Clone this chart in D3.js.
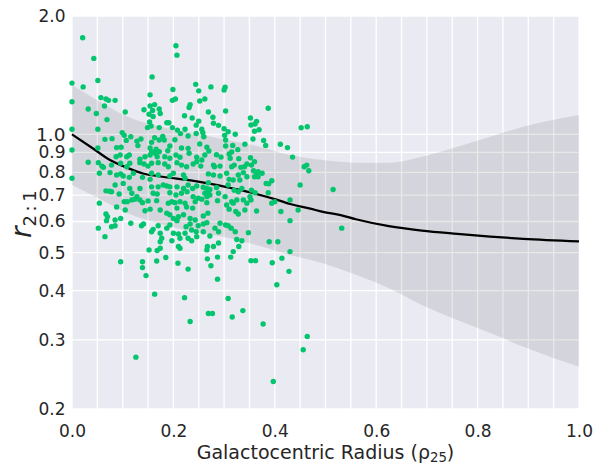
<!DOCTYPE html>
<html><head><meta charset="utf-8">
<script src="https://cdn.jsdelivr.net/npm/d3@7"></script>
<style>body{margin:0;background:#fff}</style>
</head><body>
<svg id="c" width="607" height="464"></svg>
<script>
// ---- data ----
const xTicks = [0, 0.2, 0.4, 0.6, 0.8, 1.0];
const xTickLabels = ["0.0", "0.2", "0.4", "0.6", "0.8", "1.0"];
const xGrid = [0, 0.05, 0.1, 0.15, 0.2, 0.25, 0.3, 0.35, 0.4, 0.45, 0.5, 0.55, 0.6, 0.65, 0.7, 0.75, 0.8, 0.85, 0.9, 0.95, 1.0];
const yTicks = [0.2, 0.3, 0.4, 0.5, 0.6, 0.7, 0.8, 0.9, 1.0, 2.0];
const yTickLabels = ["0.2", "0.3", "0.4", "0.5", "0.6", "0.7", "0.8", "0.9", "1.0", "2.0"];
const yMajor = [1.0];

const fitX = [0, 0.04, 0.075, 0.11, 0.14, 0.175, 0.24, 0.305, 0.355, 0.405, 0.43, 0.47, 0.495, 0.53, 0.56, 0.625, 0.69, 0.76, 0.825, 0.89, 1.0];
const fitR = [1.0, 0.923, 0.860, 0.821, 0.795, 0.781, 0.761, 0.734, 0.710, 0.681, 0.665, 0.647, 0.635, 0.623, 0.608, 0.584, 0.569, 0.558, 0.549, 0.542, 0.534];

const bandX  = [0, 0.055, 0.11, 0.175, 0.24, 0.305, 0.37, 0.43, 0.495, 0.56, 0.625, 0.69, 0.76, 0.825, 0.89, 1.0];
const bandHi = [1.335, 1.211, 1.109, 1.045, 1.006, 0.967, 0.930, 0.886, 0.860, 0.847, 0.847, 0.877, 0.930, 0.986, 1.045, 1.120];
const bandLo = [0.743, 0.685, 0.630, 0.591, 0.564, 0.546, 0.520, 0.493, 0.470, 0.439, 0.406, 0.368, 0.337, 0.312, 0.288, 0.256];

const scatter = [
[0.021,1.76],[0.043,1.56],[0.205,1.68],[0.207,1.59],[0.0,1.35],[0.022,1.32],[0.051,1.37],[0.158,1.40],
[0.244,1.34],[0.25,1.29],[0.154,1.26],[0.199,1.30],[0.057,1.24],[0.067,1.23],[0.072,1.22],[0.085,1.22],
[0.0,1.21],[0.064,1.18],[0.032,1.16],[0.048,1.13],[0.069,1.09],[0.105,1.14],[0.142,1.155],[0.154,1.18],
[0.163,1.19],[0.159,1.15],[0.172,1.16],[0.174,1.13],[0.152,1.125],[0.16,1.11],[0.198,1.22],[0.204,1.23],
[0.231,1.17],[0.233,1.19],[0.252,1.215],[0.262,1.23],[0.269,1.14],[0.222,1.115],[0.237,1.10],[0.25,1.08],
[0.187,1.07],[0.191,1.07],[0.153,1.075],[0.156,1.05],[0.149,1.04],[0.172,1.04],[0.198,1.04],[0.208,1.025],
[0.223,1.03],[0.245,1.055],[0.256,1.03],[0.258,1.01],[0.26,0.986],[0.245,1.005],[0.0,1.03],[0.051,1.03],
[0.099,1.01],[0.103,0.994],[0.116,0.986],[0.136,0.973],[0.128,0.961],[0.13,0.936],[0.065,0.971],[0.079,0.975],
[0.107,0.965],[0.163,0.98],[0.179,0.988],[0.182,0.967],[0.172,0.967],[0.157,0.954],[0.214,1.004],[0.229,0.99],
[0.203,0.969],[0.216,0.923],[0.229,0.921],[0.193,0.934],[0.189,0.908],[0.154,0.923],[0.166,0.916],[0.088,0.925],
[0.097,0.927],[0.051,0.923],[0.0,0.912],[0.266,0.927],[0.252,0.945],
[0.274,1.32],[0.302,1.317],[0.3,1.296],[0.303,1.146],[0.278,1.105],[0.279,1.067],[0.289,1.054],[0.30,1.033],
[0.308,1.015],[0.301,0.994],[0.322,1.0],[0.303,0.967],[0.317,0.937],[0.303,0.934],[0.327,0.914],[0.341,0.944],
[0.352,1.10],[0.353,1.056],[0.361,1.062],[0.364,1.079],[0.36,1.018],[0.369,1.027],[0.387,1.165],[0.357,0.973],
[0.378,0.965],[0.382,0.937],[0.411,0.943],[0.425,0.925],[0.452,1.039],[0.464,1.045],[0.27,0.907],[0.285,0.887],
[0.294,0.875],[0.31,0.891],[0.315,0.902],[0.312,0.869],[0.329,0.867],[0.352,0.872],[0.435,0.875],
[0.087,0.877],[0.095,0.886],[0.108,0.877],[0.113,0.886],[0.134,0.864],[0.144,0.877],[0.154,0.886],[0.157,0.903],
[0.164,0.895],[0.168,0.877],[0.172,0.903],[0.183,0.877],[0.193,0.869],[0.205,0.886],[0.213,0.874],[0.231,0.895],
[0.246,0.874],[0.256,0.86],[0.262,0.886],[0.032,0.849],[0.052,0.847],[0.059,0.83],[0.062,0.824],[0.078,0.835],
[0.096,0.844],[0.108,0.827],[0.114,0.844],[0.134,0.847],[0.142,0.84],[0.15,0.83],[0.157,0.844],[0.17,0.847],
[0.183,0.84],[0.19,0.827],[0.207,0.847],[0.216,0.835],[0.226,0.827],[0.239,0.84],[0.246,0.852],[0.254,0.83],
[0.054,0.796],[0.075,0.799],[0.088,0.788],[0.096,0.793],[0.101,0.783],[0.113,0.777],[0.121,0.796],[0.139,0.777],
[0.154,0.768],[0.157,0.796],[0.17,0.788],[0.193,0.783],[0.2,0.796],[0.22,0.788],[0.223,0.773],[0.085,0.743],
[0.101,0.75],[0.114,0.728],[0.134,0.728],[0.157,0.735],[0.17,0.735],[0.18,0.743],[0.187,0.739],[0.193,0.735],
[0.207,0.735],[0.22,0.728],[0.229,0.743],[0.238,0.728],[0.246,0.739],[0.259,0.733],[0.067,0.718],[0.074,0.716],
[0.078,0.714],[0.093,0.705],[0.118,0.708],[0.128,0.694],[0.16,0.708],[0.168,0.705],[0.193,0.71],[0.205,0.701],
[0.216,0.708],[0.227,0.714],[0.239,0.694],[0.249,0.688],[0.262,0.708],[0.269,0.714],[0.054,0.668],[0.103,0.674],
[0.109,0.674],[0.118,0.681],[0.124,0.684],[0.134,0.681],[0.139,0.67],[0.15,0.677],[0.167,0.678],[0.19,0.668],
[0.197,0.674],[0.203,0.67],[0.213,0.674],[0.223,0.668],[0.243,0.674],[0.256,0.684],[0.266,0.67],[0.105,0.642],
[0.144,0.639],[0.154,0.645],[0.174,0.642],[0.207,0.649],[0.226,0.653],[0.238,0.649],[0.067,0.627],[0.07,0.617],
[0.088,0.653],[0.096,0.611],[0.085,0.605],[0.187,0.63],[0.193,0.624],[0.2,0.611],[0.21,0.617],[0.22,0.624],
[0.233,0.611],[0.243,0.605],[0.259,0.62],[0.268,0.63],[0.052,0.577],[0.068,0.603],[0.078,0.582],[0.085,0.585],
[0.116,0.594],[0.137,0.585],[0.141,0.591],[0.16,0.573],[0.17,0.585],[0.187,0.577],[0.193,0.588],[0.207,0.603],
[0.225,0.582],[0.233,0.591],[0.249,0.585],[0.259,0.591],[0.065,0.549],[0.157,0.565],[0.174,0.56],[0.177,0.544],
[0.2,0.56],[0.21,0.558],[0.213,0.544],[0.223,0.56],[0.236,0.571],[0.245,0.565],[0.259,0.565],[0.174,0.533],
[0.197,0.536],[0.229,0.544],[0.236,0.536],[0.246,0.549],[0.267,0.518],[0.266,0.508],[0.152,0.508],[0.168,0.506],
[0.174,0.513],[0.21,0.518],[0.213,0.513],[0.0,0.773],
[0.36,0.852],[0.279,0.835],[0.281,0.827],[0.292,0.83],[0.315,0.827],[0.32,0.835],[0.333,0.824],[0.34,0.827],
[0.345,0.84],[0.354,0.835],[0.358,0.808],[0.364,0.799],[0.367,0.803],[0.375,0.796],[0.458,0.827],[0.463,0.835],
[0.467,0.808],[0.269,0.793],[0.279,0.788],[0.292,0.783],[0.305,0.796],[0.31,0.768],[0.318,0.765],[0.328,0.788],
[0.331,0.765],[0.338,0.799],[0.345,0.78],[0.36,0.78],[0.367,0.78],[0.394,0.762],[0.383,0.75],[0.388,0.748],
[0.269,0.753],[0.266,0.728],[0.272,0.724],[0.285,0.732],[0.289,0.708],[0.308,0.743],[0.32,0.721],[0.328,0.714],
[0.335,0.728],[0.354,0.721],[0.361,0.71],[0.387,0.71],[0.45,0.743],[0.515,0.724],[0.266,0.694],[0.272,0.701],
[0.302,0.694],[0.315,0.674],[0.325,0.681],[0.338,0.681],[0.345,0.668],[0.353,0.681],[0.351,0.694],[0.40,0.674],
[0.43,0.681],[0.287,0.678],[0.305,0.661],[0.31,0.645],[0.318,0.668],[0.323,0.636],[0.328,0.627],[0.341,0.642],
[0.364,0.638],[0.394,0.668],[0.412,0.636],[0.446,0.642],[0.266,0.596],[0.292,0.594],[0.303,0.588],[0.308,0.585],
[0.314,0.577],[0.322,0.565],[0.348,0.562],[0.43,0.603],[0.282,0.577],[0.289,0.565],[0.272,0.551],[0.325,0.54],
[0.335,0.536],[0.289,0.529],[0.389,0.533],[0.406,0.533],[0.532,0.577],[0.279,0.518],[0.318,0.503],[0.329,0.518],
[0.43,0.503],
[0.096,0.474],[0.139,0.474],[0.139,0.458],[0.146,0.437],[0.167,0.476],[0.185,0.486],[0.209,0.47],[0.229,0.454],
[0.267,0.482],[0.274,0.463],[0.163,0.392],[0.222,0.384],[0.269,0.35],[0.277,0.35],[0.233,0.334],[0.126,0.271],
[0.287,0.487],[0.313,0.487],[0.353,0.477],[0.362,0.477],[0.395,0.471],[0.414,0.484],[0.428,0.448],[0.287,0.428],
[0.404,0.414],[0.308,0.382],[0.337,0.356],[0.316,0.343],[0.377,0.329],[0.464,0.306],[0.456,0.283],[0.397,0.235]
];

// ---- layout ----
const L = 72, R = 579, T = 16, B = 409;
const svg = d3.select("#c");
const x = d3.scaleLinear().domain([0, 1]).range([L, R]);
const y = d3.scaleLog().domain([0.2, 2.0]).range([B, T]);
const FONT = "DejaVu Sans, sans-serif";
const TXT = "#262626";

svg.append("rect").attr("x", L).attr("y", T).attr("width", R - L).attr("height", B - T).attr("fill", "#EAEAF2");

const grid = svg.append("g").attr("stroke", "#fff").attr("stroke-width", 1.3);
grid.selectAll("line.v").data(xGrid).join("line").attr("class", "v")
  .attr("x1", d => x(d)).attr("x2", d => x(d)).attr("y1", T).attr("y2", B);
grid.selectAll("line.h").data(yTicks).join("line").attr("class", "h")
  .attr("x1", L).attr("x2", R).attr("y1", d => y(d)).attr("y2", d => y(d));

// confidence band
const bandData = bandX.map((v, i) => ({x: v, lo: bandLo[i], hi: bandHi[i]}));
svg.append("path").datum(bandData)
  .attr("d", d3.area().x(d => x(d.x)).y0(d => y(d.lo)).y1(d => y(d.hi)).curve(d3.curveMonotoneX))
  .attr("fill", "#000").attr("fill-opacity", 0.09);

// fit line
const fitData = fitX.map((v, i) => ({x: v, r: fitR[i]}));
svg.append("path").datum(fitData)
  .attr("d", d3.line().x(d => x(d.x)).y(d => y(d.r)).curve(d3.curveMonotoneX))
  .attr("fill", "none").attr("stroke", "#000").attr("stroke-width", 2.2);

// scatter
svg.append("g").selectAll("circle").data(scatter).join("circle")
  .attr("cx", d => x(d[0])).attr("cy", d => y(d[1])).attr("r", 2.7)
  .attr("fill", "#02c56e");

// axes (seaborn style: no spines, no tick marks)
const xAxis = d3.axisBottom(x).tickValues(xTicks).tickFormat((d, i) => xTickLabels[i]).tickSize(0).tickPadding(0);
const gx = svg.append("g").attr("transform", `translate(0,${B})`).call(xAxis);
gx.select(".domain").remove();
gx.selectAll("text").attr("font-family", FONT).attr("font-size", 17).attr("fill", TXT).attr("dy", "1.63em");

const yAxis = d3.axisLeft(y).tickValues(yTicks).tickFormat((d, i) => yTickLabels[i]).tickSize(0).tickPadding(6.5);
const gy = svg.append("g").attr("transform", `translate(${L},0)`).call(yAxis);
gy.select(".domain").remove();
gy.selectAll("text").attr("font-family", FONT).attr("fill", TXT)
  .attr("font-size", d => yMajor.includes(d) ? 18.5 : 17);

// axis labels
const xl = svg.append("text").attr("x", (L + R) / 2).attr("y", 459).attr("text-anchor", "middle")
  .attr("font-family", FONT).attr("font-size", 19).attr("fill", TXT);
xl.append("tspan").text("Galactocentric Radius (ρ");
xl.append("tspan").attr("font-size", 13.3).attr("dy", 3).text("25");
xl.append("tspan").attr("dy", -3).text(")");

const yl = svg.append("text").attr("transform", "translate(31,238) rotate(-90)")
  .attr("font-family", FONT).attr("fill", TXT);
yl.append("tspan").attr("font-size", 28).attr("font-style", "italic").text("r");
yl.append("tspan").attr("font-size", 18).attr("dy", 5).text("2\u2009:\u20091");
</script>
</body></html>
